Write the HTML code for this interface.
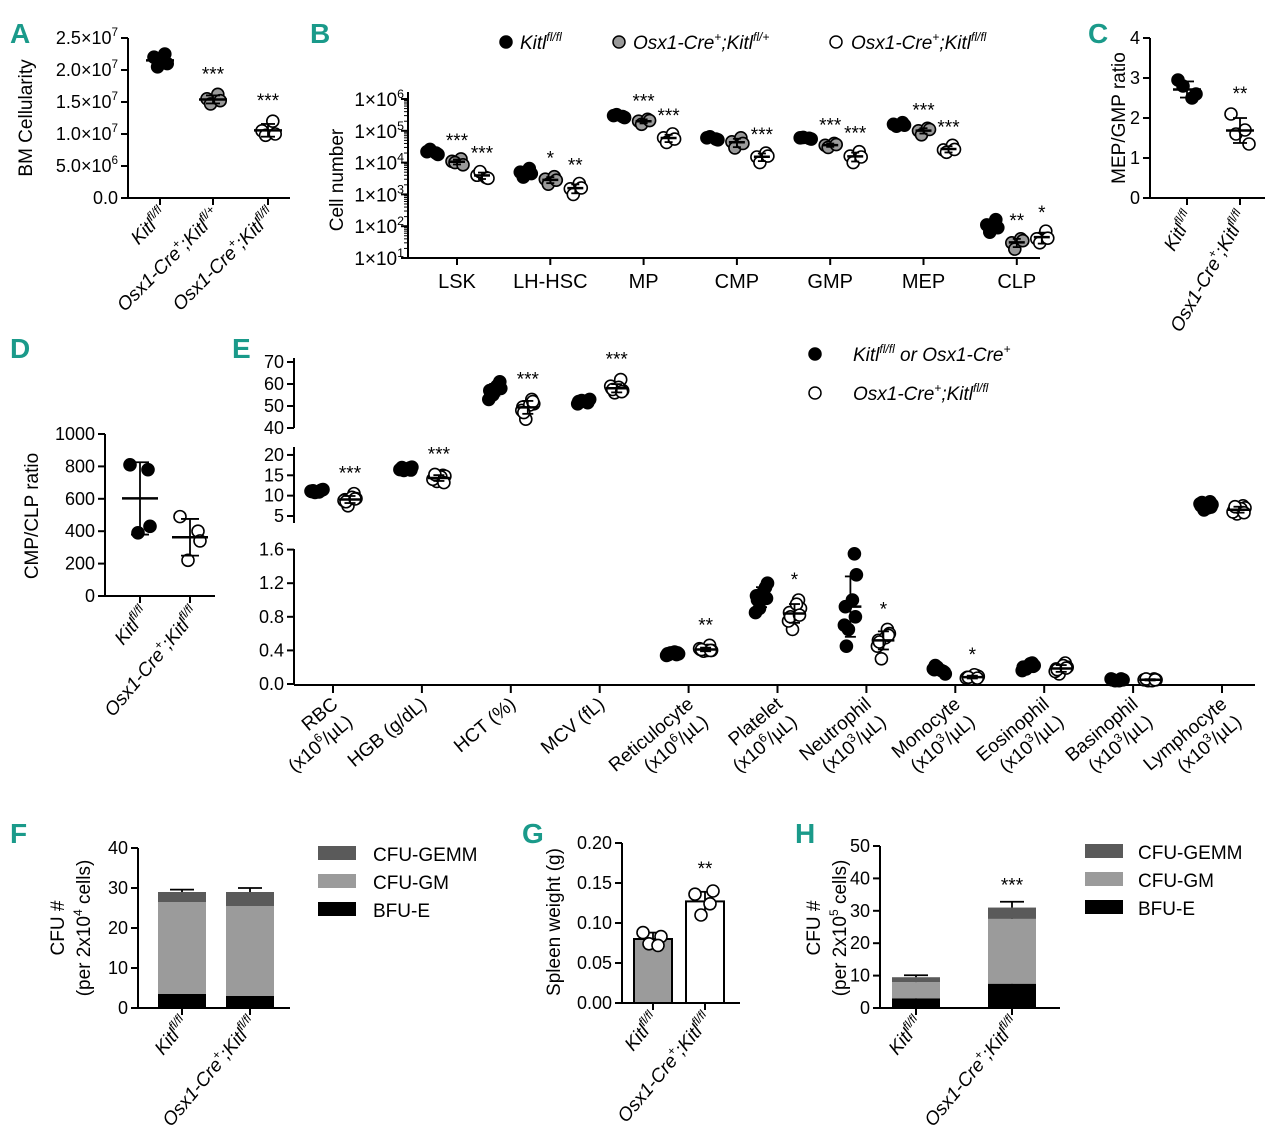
<!DOCTYPE html>
<html><head><meta charset="utf-8"><style>
body{margin:0;background:#fff}
svg{display:block;font-family:"Liberation Sans",sans-serif}
.pl{fill:#1a9a8a;font-weight:bold;font-size:28px}
.tk{font-size:19px}
.it{font-style:italic}
</style></head><body>
<svg id="fig" width="1280" height="1145" viewBox="0 0 1280 1145" xmlns="http://www.w3.org/2000/svg">
<g>
<text class="pl" x="10" y="43">A</text><text class="pl" x="310" y="43">B</text><text class="pl" x="1088" y="43">C</text>
<text class="pl" x="10" y="358">D</text><text class="pl" x="232" y="358">E</text>
<text class="pl" x="10" y="843">F</text><text class="pl" x="522" y="843">G</text><text class="pl" x="795" y="843">H</text>
</g>
<g class="tk">
<text x="32" y="118" transform="rotate(-90 32 118)" text-anchor="middle">BM Cellularity</text>
<g transform="translate(168,216) rotate(-45)"><text text-anchor="end" class="it">Kitl<tspan font-size="12" dy="-8">fl/fl</tspan></text></g>
<g transform="translate(221,216) rotate(-45)"><text text-anchor="end" class="it">Osx1-Cre<tspan font-size="12" dy="-8">+</tspan><tspan dy="8">;Kitl</tspan><tspan font-size="12" dy="-8">fl/+</tspan></text></g>
<g transform="translate(276,216) rotate(-45)"><text text-anchor="end" class="it">Osx1-Cre<tspan font-size="12" dy="-8">+</tspan><tspan dy="8">;Kitl</tspan><tspan font-size="12" dy="-8">fl/fl</tspan></text></g>
</g>
<g class="tk">
<text x="343" y="180" transform="rotate(-90 343 180)" text-anchor="middle">Cell number</text>
<circle cx="506" cy="42" r="6" fill="#000" stroke="#000" stroke-width="1.5"/><text x="520" y="49" class="it">Kitl<tspan font-size="12" dy="-8">fl/fl</tspan></text>
<circle cx="619" cy="42" r="6" fill="#999" stroke="#000" stroke-width="1.5"/><text x="633" y="49" class="it">Osx1-Cre<tspan font-size="12" dy="-8">+</tspan><tspan dy="8">;Kitl</tspan><tspan font-size="12" dy="-8">fl/+</tspan></text>
<circle cx="836" cy="42" r="6" fill="#fff" stroke="#000" stroke-width="1.5"/><text x="851" y="49" class="it">Osx1-Cre<tspan font-size="12" dy="-8">+</tspan><tspan dy="8">;Kitl</tspan><tspan font-size="12" dy="-8">fl/fl</tspan></text>
</g>
<g class="tk">
<text x="1125" y="118" transform="rotate(-90 1125 118)" text-anchor="middle">MEP/GMP ratio</text>
<g transform="translate(1195,216) rotate(-60)"><text text-anchor="end" class="it">Kitl<tspan font-size="12" dy="-8">fl/fl</tspan></text></g>
<g transform="translate(1248,216) rotate(-60)"><text text-anchor="end" class="it">Osx1-Cre<tspan font-size="12" dy="-8">+</tspan><tspan dy="8">;Kitl</tspan><tspan font-size="12" dy="-8">fl/fl</tspan></text></g>
</g>
<g class="tk">
<text x="38" y="516" transform="rotate(-90 38 516)" text-anchor="middle">CMP/CLP ratio</text>
<g transform="translate(150,614) rotate(-50)"><text text-anchor="end" class="it">Kitl<tspan font-size="12" dy="-8">fl/fl</tspan></text></g>
<g transform="translate(200,614) rotate(-50)"><text text-anchor="end" class="it">Osx1-Cre<tspan font-size="12" dy="-8">+</tspan><tspan dy="8">;Kitl</tspan><tspan font-size="12" dy="-8">fl/fl</tspan></text></g>
</g>
<g class="tk">
<circle cx="815" cy="354" r="6" fill="#000" stroke="#000" stroke-width="1.5"/><text x="853" y="361" class="it">Kitl<tspan font-size="12" dy="-8">fl/fl</tspan><tspan dy="8"> or Osx1-Cre</tspan><tspan font-size="12" dy="-8">+</tspan></text>
<circle cx="815" cy="393" r="6" fill="#fff" stroke="#000" stroke-width="1.5"/><text x="853" y="400" class="it">Osx1-Cre<tspan font-size="12" dy="-8">+</tspan><tspan dy="8">;Kitl</tspan><tspan font-size="12" dy="-8">fl/fl</tspan></text>
</g>
<g class="tk">
<text x="64" y="928" transform="rotate(-90 64 928)" text-anchor="middle">CFU #</text>
<text x="90" y="928" transform="rotate(-90 90 928)" text-anchor="middle">(per 2x10<tspan font-size="12" dy="-8">4</tspan><tspan dy="8"> cells)</tspan></text>
<g transform="translate(190,1024) rotate(-50)"><text text-anchor="end" class="it">Kitl<tspan font-size="12" dy="-8">fl/fl</tspan></text></g>
<g transform="translate(258,1024) rotate(-50)"><text text-anchor="end" class="it">Osx1-Cre<tspan font-size="12" dy="-8">+</tspan><tspan dy="8">;Kitl</tspan><tspan font-size="12" dy="-8">fl/fl</tspan></text></g>
<rect x="318" y="846" width="38" height="14" fill="#5a5a5a"/><text x="373" y="861">CFU-GEMM</text>
<rect x="318" y="874" width="38" height="14" fill="#9b9b9b"/><text x="373" y="889">CFU-GM</text>
<rect x="318" y="902" width="38" height="14" fill="#000"/><text x="373" y="917">BFU-E</text>
</g>
<g class="tk">
<text x="560" y="922" transform="rotate(-90 560 922)" text-anchor="middle">Spleen weight (g)</text>
<g transform="translate(660,1020) rotate(-50)"><text text-anchor="end" class="it">Kitl<tspan font-size="12" dy="-8">fl/fl</tspan></text></g>
<g transform="translate(713,1020) rotate(-50)"><text text-anchor="end" class="it">Osx1-Cre<tspan font-size="12" dy="-8">+</tspan><tspan dy="8">;Kitl</tspan><tspan font-size="12" dy="-8">fl/fl</tspan></text></g>
</g>
<g class="tk">
<text x="820" y="928" transform="rotate(-90 820 928)" text-anchor="middle">CFU #</text>
<text x="846" y="928" transform="rotate(-90 846 928)" text-anchor="middle">(per 2x10<tspan font-size="12" dy="-8">5</tspan><tspan dy="8"> cells)</tspan></text>
<g transform="translate(924,1024) rotate(-50)"><text text-anchor="end" class="it">Kitl<tspan font-size="12" dy="-8">fl/fl</tspan></text></g>
<g transform="translate(1020,1024) rotate(-50)"><text text-anchor="end" class="it">Osx1-Cre<tspan font-size="12" dy="-8">+</tspan><tspan dy="8">;Kitl</tspan><tspan font-size="12" dy="-8">fl/fl</tspan></text></g>
<rect x="1085" y="844" width="38" height="14" fill="#5a5a5a"/><text x="1138" y="859">CFU-GEMM</text>
<rect x="1085" y="872" width="38" height="14" fill="#9b9b9b"/><text x="1138" y="887">CFU-GM</text>
<rect x="1085" y="900" width="38" height="14" fill="#000"/><text x="1138" y="915">BFU-E</text>
</g>
<g id="marks"></g>
</svg>
<script>
// ---- Panel A data ----
const aGroups=[[2.2e7,2.25e7,2.05e7,2.1e7],[1.55e7,1.62e7,1.47e7,1.52e7],[1.05e7,1.2e7,0.98e7,1.0e7]];
const aTicks=[0,5e6,1e7,1.5e7,2e7,2.5e7];
const aTickLabels=["0.0","5.0×10|6","1.0×10|7","1.5×10|7","2.0×10|7","2.5×10|7"];
const aStars=["","***","***"];
// ---- Panel B data ----
const bCats=["LSK","LH-HSC","MP","CMP","GMP","MEP","CLP"];
const bBlack=[[2.2e4,2.0e4,2.6e4,1.8e4],[5e3,6.5e3,3.5e3,4.5e3],[3e5,2.8e5,3.2e5,2.6e5],[6e4,5.5e4,6.5e4,5.2e4],[6e4,5.8e4,6.2e4,5.5e4],[1.6e5,1.8e5,1.4e5,1.5e5],[1.1e2,1.6e2,0.65e2,0.9e2]];
const bGray=[[1.1e4,1.3e4,1.0e4,0.85e4],[3e3,3.6e3,2.1e3,2.8e3],[2e5,2.3e5,1.6e5,2.1e5],[4.5e4,6e4,2.9e4,4e4],[3.5e4,4e4,3e4,3.7e4],[1e5,1.2e5,0.75e5,1.1e5],[3e1,4e1,1.9e1,3.5e1]];
const bWhite=[[4e3,3.4e3,5.2e3,3.2e3],[1.5e3,2.2e3,1.0e3,1.6e3],[6e4,8e4,4.3e4,5.5e4],[1.5e4,2e4,1.0e4,1.6e4],[1.6e4,2.2e4,1.0e4,1.5e4],[2.5e4,3.5e4,2.1e4,2.6e4],[4e1,7e1,3e1,4.2e1]];
const bStarsGray=["***","*","***","","***","***","**"];
const bStarsWhite=["***","**","***","***","***","***","*"];
const bTickExp=[1,2,3,4,5,6];
// ---- Panel C data ----
const cGroups=[[2.95,2.6,2.8,2.5],[2.1,1.35,1.6,1.7]];
const cTicks=[0,1,2,3,4];
const cStars=["","**"];
// ---- Panel D data ----
const dGroups=[[810,780,430,390],[490,400,340,220]];
const dTicks=[0,200,400,600,800,1000];
// ---- Panel E data ----
const eCats=[["RBC","(x10|6|/µL)"],["HGB (g/dL)"],["HCT (%)"],["MCV (fL)"],["Reticulocyte","(x10|6|/µL)"],["Platelet","(x10|6|/µL)"],["Neutrophil","(x10|3|/µL)"],["Monocyte","(x10|3|/µL)"],["Eosinophil","(x10|3|/µL)"],["Basinophil","(x10|3|/µL)"],["Lymphocyte","(x10|3|/µL)"]];
const eSegment=["mid","mid","top","top","low","low","low","low","low","low","mid"];
const eBlack=[[11,11.3,10.8,11.5,11.1,10.9,11.2,11.4],[16.5,16.8,16.2,17,16.4,16.6,16.9,16.3],[57,60,55,58,53,59,56,61],[52,51.5,52.5,53,51,52.2,51.8,52.6],[0.36,0.35,0.37,0.36,0.34,0.38,0.35,0.37],[1.05,1.15,0.9,1.2,0.85,1.1,1.0,1.02],[0.92,1.55,0.65,1.3,0.7,1.0,0.45,0.8],[0.17,0.15,0.2,0.12,0.18,0.16,0.22,0.14],[0.2,0.25,0.18,0.22,0.16,0.24,0.2,0.21],[0.05,0.06,0.04,0.05,0.06,0.04,0.05,0.05],[7.5,8.5,6.5,7.8,8,7,8.3,7.2]];
const eWhite=[[9,10.5,7.5,9.3,8.8,9.6,8.5,9.2],[14.3,15,13.5,14.8,14,14.6,15.2,13.2],[49.5,53,44,51,48,50.5,47,52],[58,62,56,57,59,58.5,57.5,56.5],[0.41,0.46,0.39,0.4,0.42,0.4,0.41,0.4],[0.85,1.0,0.65,0.9,0.75,0.95,0.8,0.82],[0.52,0.65,0.3,0.6,0.45,0.55,0.5,0.58],[0.08,0.1,0.06,0.09,0.07,0.11,0.08,0.07],[0.18,0.25,0.12,0.2,0.15,0.22,0.17,0.19],[0.05,0.06,0.04,0.05,0.05,0.04,0.06,0.05],[6.5,7.5,5.5,7,6,6.8,7.3,5.8]];
const eStars=["***","***","***","***","**","*","*","*","","",""];
const eTopTicks=[40,50,60,70], eMidTicks=[5,10,15,20], eLowTicks=[0,0.4,0.8,1.2,1.6];
// ---- Panel F data ----
const fBFU=[3.5,3.0], fGM=[23,22.5], fGEMM=[2.5,3.5], fErr=[0.6,1.0], fTicks=[0,10,20,30,40];
// ---- Panel G data ----
const gMeans=[0.08,0.127], gPoints=[[0.088,0.083,0.074,0.072],[0.136,0.14,0.11,0.124]], gErr=[0.008,0.012], gTicks=[0,0.05,0.1,0.15,0.2], gStars=["","**"];
// ---- Panel H data ----
const hBFU=[3.0,7.5], hGM=[5.0,20], hGEMM=[1.5,3.5], hErr=[0.6,1.8], hTicks=[0,10,20,30,40,50], hStars=["","***"];

const NS="http://www.w3.org/2000/svg", M=document.getElementById('marks');
function mk(tag,at,parent){const e=document.createElementNS(NS,tag);for(const k in at)e.setAttribute(k,at[k]);(parent||M).appendChild(e);return e;}
function supText(x,y,str,anchor,size,parent){const t=mk('text',{x:x,y:y,'text-anchor':anchor,'font-size':size},parent);const p=str.split('|');p.forEach((s,i)=>{if(!s)return;const ts=mk('tspan',{},t);ts.textContent=s;if(i%2===1){ts.setAttribute('font-size',size*0.65);ts.setAttribute('dy',-8);}else if(i>0){ts.setAttribute('dy',8);}});return t;}
const jit=[-5,4,-2,6,-6,2,-4,5];
function dot(cx,cy,fill,name){const c=mk('circle',{cx:cx,cy:cy,r:6,fill:fill,stroke:'#000','stroke-width':1.6});return c;}
function line(x1,y1,x2,y2,w){return mk('line',{x1:x1,y1:y1,x2:x2,y2:y2,stroke:'#000','stroke-width':w||2});}
function mean(a){return a.reduce((s,v)=>s+v,0)/a.length;}
function sd(a){const m=mean(a);return Math.sqrt(a.reduce((s,v)=>s+(v-m)*(v-m),0)/(a.length-1));}
function errbar(x,m,s,yf,hw){line(x-hw,yf(m),x+hw,yf(m),2.5);line(x,yf(m-s),x,yf(m+s),1.8);line(x-hw/2,yf(m-s),x+hw/2,yf(m-s),1.8);line(x-hw/2,yf(m+s),x+hw/2,yf(m+s),1.8);}
function star(x,y,s){if(!s)return;const t=mk('text',{x:x,y:y,'text-anchor':'middle','font-size':19});t.textContent=s;}
function yAxis(x,y1,y2,ticks,yf,labels,size){line(x,y1,x,y2);ticks.forEach((v,i)=>{line(x-7,yf(v),x,yf(v));supText(x-10,yf(v)+6,labels?labels[i]:String(v),'end',size||18);});}

// Panel A
const ayf=v=>198-v/2.5e7*160, aX=[160,213,268];
yAxis(128,38,198,aTicks,ayf,aTickLabels);line(128,198,290,198);aX.forEach(x=>line(x,198,x,205));
aGroups.forEach((g,i)=>{const f=['#000','#999','#fff'][i];g.forEach((v,j)=>dot(aX[i]+jit[j]*1.2,ayf(v),f,'bm-point'));errbar(aX[i],mean(g),sd(g),ayf,14);star(aX[i],ayf(Math.max(...g))-14,aStars[i]);});

// Panel B
const byf=v=>258-(Math.log10(v)-1)*31.8, bX=i=>457+i*93.3;
line(408,92,408,258);line(408,258,1040,258);
bTickExp.forEach(e=>{line(401,byf(Math.pow(10,e)),408,byf(Math.pow(10,e)));supText(404,byf(Math.pow(10,e))+7,'1×10|'+e,'end',19);
 for(let k=2;k<10&&e<6;k++)line(404,byf(k*Math.pow(10,e)),408,byf(k*Math.pow(10,e)),1);});
bCats.forEach((c,i)=>{const x=bX(i);line(x,258,x,265);const t=mk('text',{x:x,y:288,'text-anchor':'middle','font-size':20});t.textContent=c;
 [[bBlack,'#000',-25],[bGray,'#999',0],[bWhite,'#fff',25]].forEach(([arr,f,o],gi)=>{const g=arr[i];g.forEach((v,j)=>dot(x+o+jit[j],byf(v),f,'b-point'));errbar(x+o,mean(g),sd(g),byf,8);
  if(gi===1)star(x+o,byf(Math.max(...g))-12,bStarsGray[i]);if(gi===2)star(x+o,byf(Math.max(...g))-12,bStarsWhite[i]);});});

// Panel C
const cyf=v=>198-v*40, cX=[1187,1240];
yAxis(1150,38,198,cTicks,cyf);line(1150,198,1265,198);cX.forEach(x=>line(x,198,x,205));
cGroups.forEach((g,i)=>{g.forEach((v,j)=>dot(cX[i]+[-9,9,-4,5][j],cyf(v),i?'#fff':'#000','c-point'));errbar(cX[i],mean(g),sd(g),cyf,14);star(cX[i],cyf(Math.max(...g))-14,cStars[i]);});

// Panel D
const dyf=v=>596-v*0.162, dX=[140,190];
yAxis(105,434,596,dTicks,dyf);line(105,596,215,596);dX.forEach(x=>line(x,596,x,603));
dGroups.forEach((g,i)=>{g.forEach((v,j)=>dot(dX[i]+[-10,8,10,-2][j],dyf(v),i?'#fff':'#000','d-point'));errbar(dX[i],mean(g),sd(g),dyf,18);});

// Panel E
const eyTop=v=>428-(v-40)*2.2, eyMid=v=>516-(v-5)*4.07, eyLow=v=>684-v*84;
const eyf={top:eyTop,mid:eyMid,low:eyLow};
line(294,358,294,428);eTopTicks.forEach(v=>{line(287,eyTop(v),294,eyTop(v));supText(284,eyTop(v)+6,String(v),'end',18);});
line(294,447,294,523);eMidTicks.forEach(v=>{line(287,eyMid(v),294,eyMid(v));supText(284,eyMid(v)+6,String(v),'end',18);});
line(294,549,294,685);eLowTicks.forEach(v=>{line(287,eyLow(v),294,eyLow(v));supText(284,eyLow(v)+6,v.toFixed(1),'end',18);});
line(294,685,1255,685);
const eX=i=>333+i*88.9;
eCats.forEach((c,i)=>{const x=eX(i),yf=eyf[eSegment[i]];line(x,685,x,693);
 const g=mk('g',{transform:'translate('+(x+6)+',706) rotate(-40)'});
 supText(0,0,c[0],'end',19,g);if(c[1])supText(0,23,c[1],'end',19,g);
 [[eBlack,'#000',-16],[eWhite,'#fff',17]].forEach(([arr,f,o],gi)=>{const d=arr[i];d.forEach((v,j)=>dot(x+o+jit[j],yf(v),f,'e-point'));errbar(x+o,mean(d),sd(d),yf,11);
  if(gi===1)star(x+o,yf(Math.max(...d))-14,eStars[i]);});});

// Stacked bars helper
function stacked(ax,y0,sc,xs,bw,bfu,gm,gemm,err,ticks,xend,name){const yf=v=>y0-v*sc;yAxis(ax,yf(ticks[ticks.length-1]),y0,ticks,yf);line(ax,y0,xend,y0);
 xs.forEach((x,i)=>{line(x,y0,x,y0+7);const segs=[[0,bfu[i],'#000'],[bfu[i],bfu[i]+gm[i],'#9b9b9b'],[bfu[i]+gm[i],bfu[i]+gm[i]+gemm[i],'#5a5a5a']];
  segs.forEach(([a,b,f])=>{const r=mk('rect',{x:x-bw/2,y:yf(b),width:bw,height:yf(a)-yf(b),fill:f});
   line(x,yf(b),x,yf(b+err[i]),1.8);line(x-bw/4,yf(b+err[i]),x+bw/4,yf(b+err[i]),1.8);});});return yf;}
stacked(138,1008,4,[182,250],48,fBFU,fGM,fGEMM,fErr,fTicks,290,'f');
const hyf=stacked(880,1008,3.24,[916,1012],48,hBFU,hGM,hGEMM,hErr,hTicks,1060,'h');
[916,1012].forEach((x,i)=>star(x,hyf(hBFU[i]+hGM[i]+hGEMM[i]+hErr[i])-10,hStars[i]));

// Panel G
const gyf=v=>1003-v*800, gX=[653,705];
yAxis(622,843,1003,gTicks,gyf,gTicks.map(v=>v.toFixed(2)));line(622,1003,740,1003);
gX.forEach((x,i)=>{line(x,1003,x,1010);const r=mk('rect',{x:x-19,y:gyf(gMeans[i]),width:38,height:1003-gyf(gMeans[i]),fill:i?'#fff':'#9b9b9b',stroke:'#000','stroke-width':2});
 line(x,gyf(gMeans[i]-gErr[i]),x,gyf(gMeans[i]+gErr[i]),1.8);line(x-8,gyf(gMeans[i]+gErr[i]),x+8,gyf(gMeans[i]+gErr[i]),1.8);
 gPoints[i].forEach((v,j)=>dot(x+[-10,8,-4,5][j],gyf(v),'#fff','g-point'));star(x,gyf(Math.max(...gPoints[i]))-16,gStars[i]);});
</script>
</body></html>
